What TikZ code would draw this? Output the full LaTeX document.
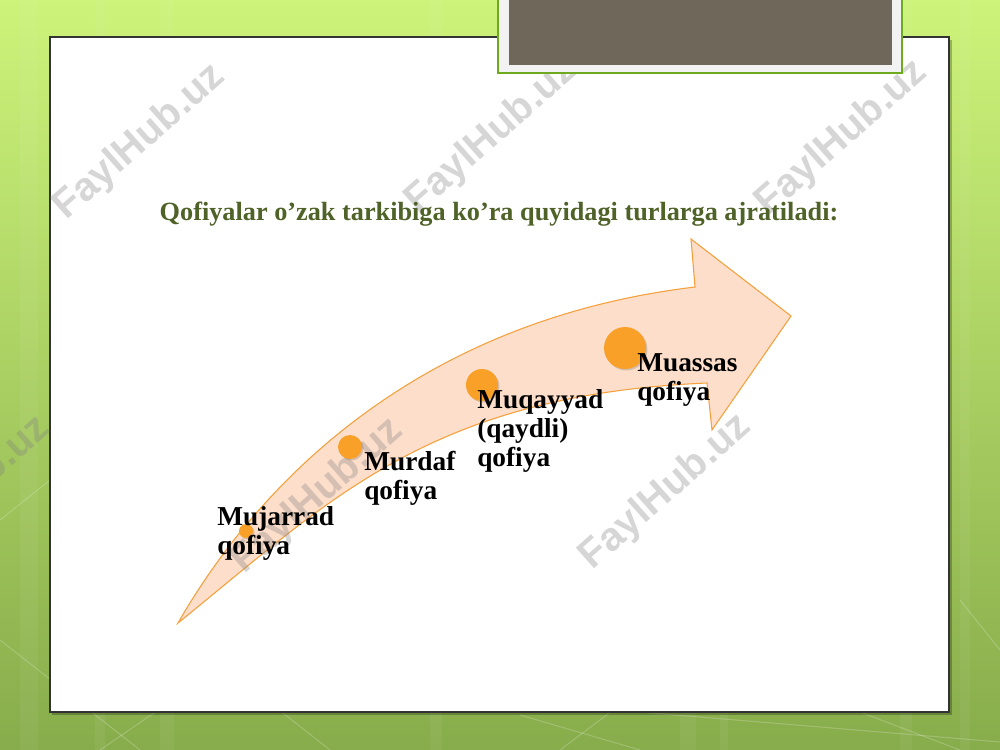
\documentclass[tikz,border=0pt]{standalone}
\usepackage{fontspec}
\setmainfont{Liberation Serif}
\newfontfamily\wmfont{Liberation Sans}
\definecolor{bgtop}{RGB}{205,243,122}
\definecolor{bgbot}{RGB}{135,172,75}
\definecolor{titlegreen}{RGB}{79,98,40}
\definecolor{peach}{RGB}{252,222,202}
\definecolor{arroworange}{RGB}{245,160,60}
\definecolor{dotorange}{RGB}{248,160,40}
\definecolor{boxgrey}{RGB}{111,103,90}
\definecolor{boxgreen}{RGB}{110,170,30}
\tikzset{
  label/.style={anchor=north west,inner sep=0pt,align=left,font=\bfseries\fontsize{20.5}{21.75}\selectfont,text=black},
  dot/.style={circle,fill=dotorange,inner sep=0pt,draw=none},
  dotshadow/.style={circle,fill=black,opacity=0.15,inner sep=0pt,draw=none},
  watermark/.style={rotate=41.5,text=gray,text opacity=0.32,font=\wmfont\bfseries\fontsize{30}{30}\selectfont,inner sep=0pt},
  bgline/.style={draw=white,opacity=0.2,line width=0.8pt}
}
\begin{document}
\begin{tikzpicture}[x=0.75pt,y=-0.75pt]
\useasboundingbox (0,0) rectangle (1000,750);
% background
\shade[top color=bgtop,bottom color=bgbot] (0,0) rectangle (1000,750);
\foreach \xx/\ww in {20/18,95/10,160/14,430/12,680/16,720/8,900/12,960/10}
  \fill[white,opacity=0.05] (\xx,0) rectangle ++(\ww,750);
\draw[bgline] (0,640) -- (140,750);
\draw[bgline] (100,750) -- (260,640);
\draw[bgline] (190,640) -- (330,750);
\draw[bgline] (300,700) -- (420,640);
\draw[bgline] (520,715) -- (640,750);
\draw[bgline] (560,750) -- (680,660);
\draw[bgline] (640,712) -- (1000,742);
\draw[bgline] (860,712) -- (960,750);
\draw[bgline] (960,600) -- (1000,650);
\draw[bgline] (0,520) -- (50,480);
% frame
\fill[black,opacity=0.25] (52,40) rectangle (952,715);
\draw[fill=white,draw=black!80,line width=0.8pt] (50,37) rectangle (949,712);
% arrow
\draw[fill=peach,draw=arroworange,line width=0.8pt]
  (178,623) .. controls (260,480) and (420,320) .. (695,287)
  -- (691,239) -- (791,316) -- (712,430) -- (707,383)
  .. controls (430,395) and (330,500) .. (178,623) -- cycle;
% watermarks
\node[watermark] (w1) at (140,142) {FaylHub.uz};
\node[watermark] (w2) at (492,136) {FaylHub.uz};
\node[watermark] (w3) at (842,138) {FaylHub.uz};
\node[watermark] (w4) at (-35,494) {FaylHub.uz};
\node[watermark] (w5) at (318,496) {FaylHub.uz};
\node[watermark] (w6) at (666,492) {FaylHub.uz};
% dots
\node[dotshadow,minimum size=14pt*0.75] at (247.5,532.5) {};
\node[dot,minimum size=14pt*0.75] (d1) at (246,531) {};
\node[dotshadow,minimum size=24pt*0.75] at (351.5,448.5) {};
\node[dot,minimum size=24pt*0.75] (d2) at (350,447) {};
\node[dotshadow,minimum size=32pt*0.75] at (483.5,386.5) {};
\node[dot,minimum size=32pt*0.75] (d3) at (482,385) {};
\node[dotshadow,minimum size=42pt*0.75] at (626.5,349.5) {};
\node[dot,minimum size=42pt*0.75] (d4) at (625,348) {};
% labels
\node[label] (l1) at (217,506) {Mujarrad\\qofiya};
\node[label] (l2) at (364,451) {Murdaf\\qofiya};
\node[label] (l3) at (477,389) {Muqayyad\\(qaydli)\\qofiya};
\node[label] (l4) at (637,353) {Muassas\\qofiya};
% title
\node[anchor=base,inner sep=0pt,text=titlegreen,font=\bfseries\fontsize{19.7}{22}\selectfont] (title) at (499,220) {Qofiyalar o’zak tarkibiga ko’ra quyidagi turlarga ajratiladi:};
% top box
\draw[fill=white!95!black,draw=boxgreen,line width=1.2pt] (498,-2) rectangle (902,73);
\fill[boxgrey] (509,-2) rectangle (892,65);
\end{tikzpicture}
\end{document}
